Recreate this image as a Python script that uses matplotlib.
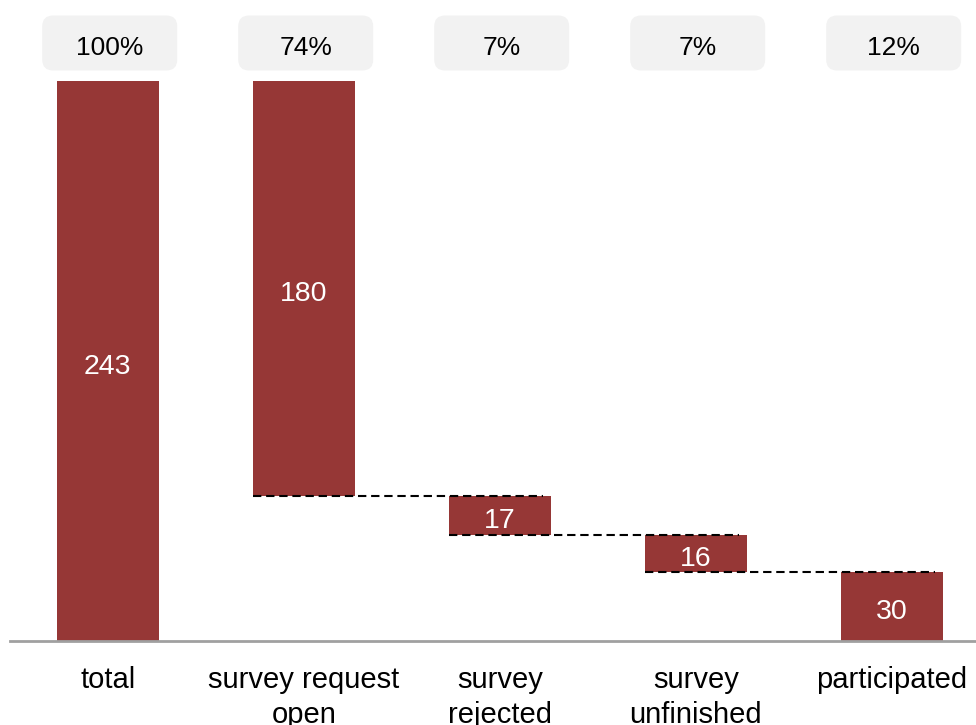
import matplotlib.pyplot as plt
from matplotlib.patches import FancyBboxPatch

plt.rcParams['font.family'] = ['Liberation Sans', 'DejaVu Sans']

# funnel of survey responses
categories = ["total", "survey request\nopen", "survey\nrejected", "survey\nunfinished", "participated"]
values = [243, 180, 17, 16, 30]
total = values[0]

bar_color = "#963736"
box_color = "#f2f2f2"

fig = plt.figure(figsize=(9.76, 7.25), dpi=100)
ax = fig.add_axes([0.01, 0.1159, 0.99, 0.8841])

# waterfall: the first and last bars stand on the axis, the rest hang down
bottoms = []
level = total
for i, v in enumerate(values):
    if i == 0 or i == len(values) - 1:
        bottoms.append(0)
    else:
        level -= v
        bottoms.append(level)

x = list(range(len(values)))
width = 0.52
ax.bar(x, values, width=width, bottom=bottoms, color=bar_color, edgecolor="none", zorder=2)

for xi, v, b in zip(x, values, bottoms):
    ax.annotate(str(v), (xi, b + v / 2), xytext=(0, -4), textcoords="offset points",
                ha="center", va="center", color="white", fontsize=20.5, zorder=3)

# dashed connectors from each hanging bar's bottom to the next bar
for i in range(1, len(values) - 1):
    y = bottoms[i]
    ax.plot([x[i] - width / 2, x[i + 1] + width / 2 - 0.04], [y, y],
            color="black", linestyle=(0, (4, 2.3)), linewidth=1.5, zorder=4)

# share of total in rounded boxes above the bars
ax.set_xlim(-0.5, 4.43)
ax.set_ylim(0, 278.2)
px_x = 196.0
px_y = 641 / 278.2
box_w = 135 / px_x
box_h = 55 / px_y
box_yc = (641 - 43) / px_y
for xi, v in zip(x, values):
    pct = f"{round(v / total * 100)}%"
    patch = FancyBboxPatch((xi - box_w / 2 + 0.01, box_yc - box_h / 2), box_w, box_h,
                           boxstyle="round,pad=0,rounding_size=0.055",
                           mutation_aspect=px_x / px_y,
                           facecolor=box_color, edgecolor="none", clip_on=False)
    ax.add_patch(patch)
    ax.text(xi + 0.01, box_yc - 2, pct, ha="center", va="center", fontsize=19, color="black")

ax.set_xticks(x)
ax.set_xticklabels(categories, fontsize=21, linespacing=1.3)
ax.tick_params(axis="x", length=0, pad=18)
ax.set_yticks([])
for side in ["top", "left", "right"]:
    ax.spines[side].set_visible(False)
ax.spines["bottom"].set_color("#a0a0a0")
ax.spines["bottom"].set_linewidth(2)

fig.savefig("out.png", dpi=100)
